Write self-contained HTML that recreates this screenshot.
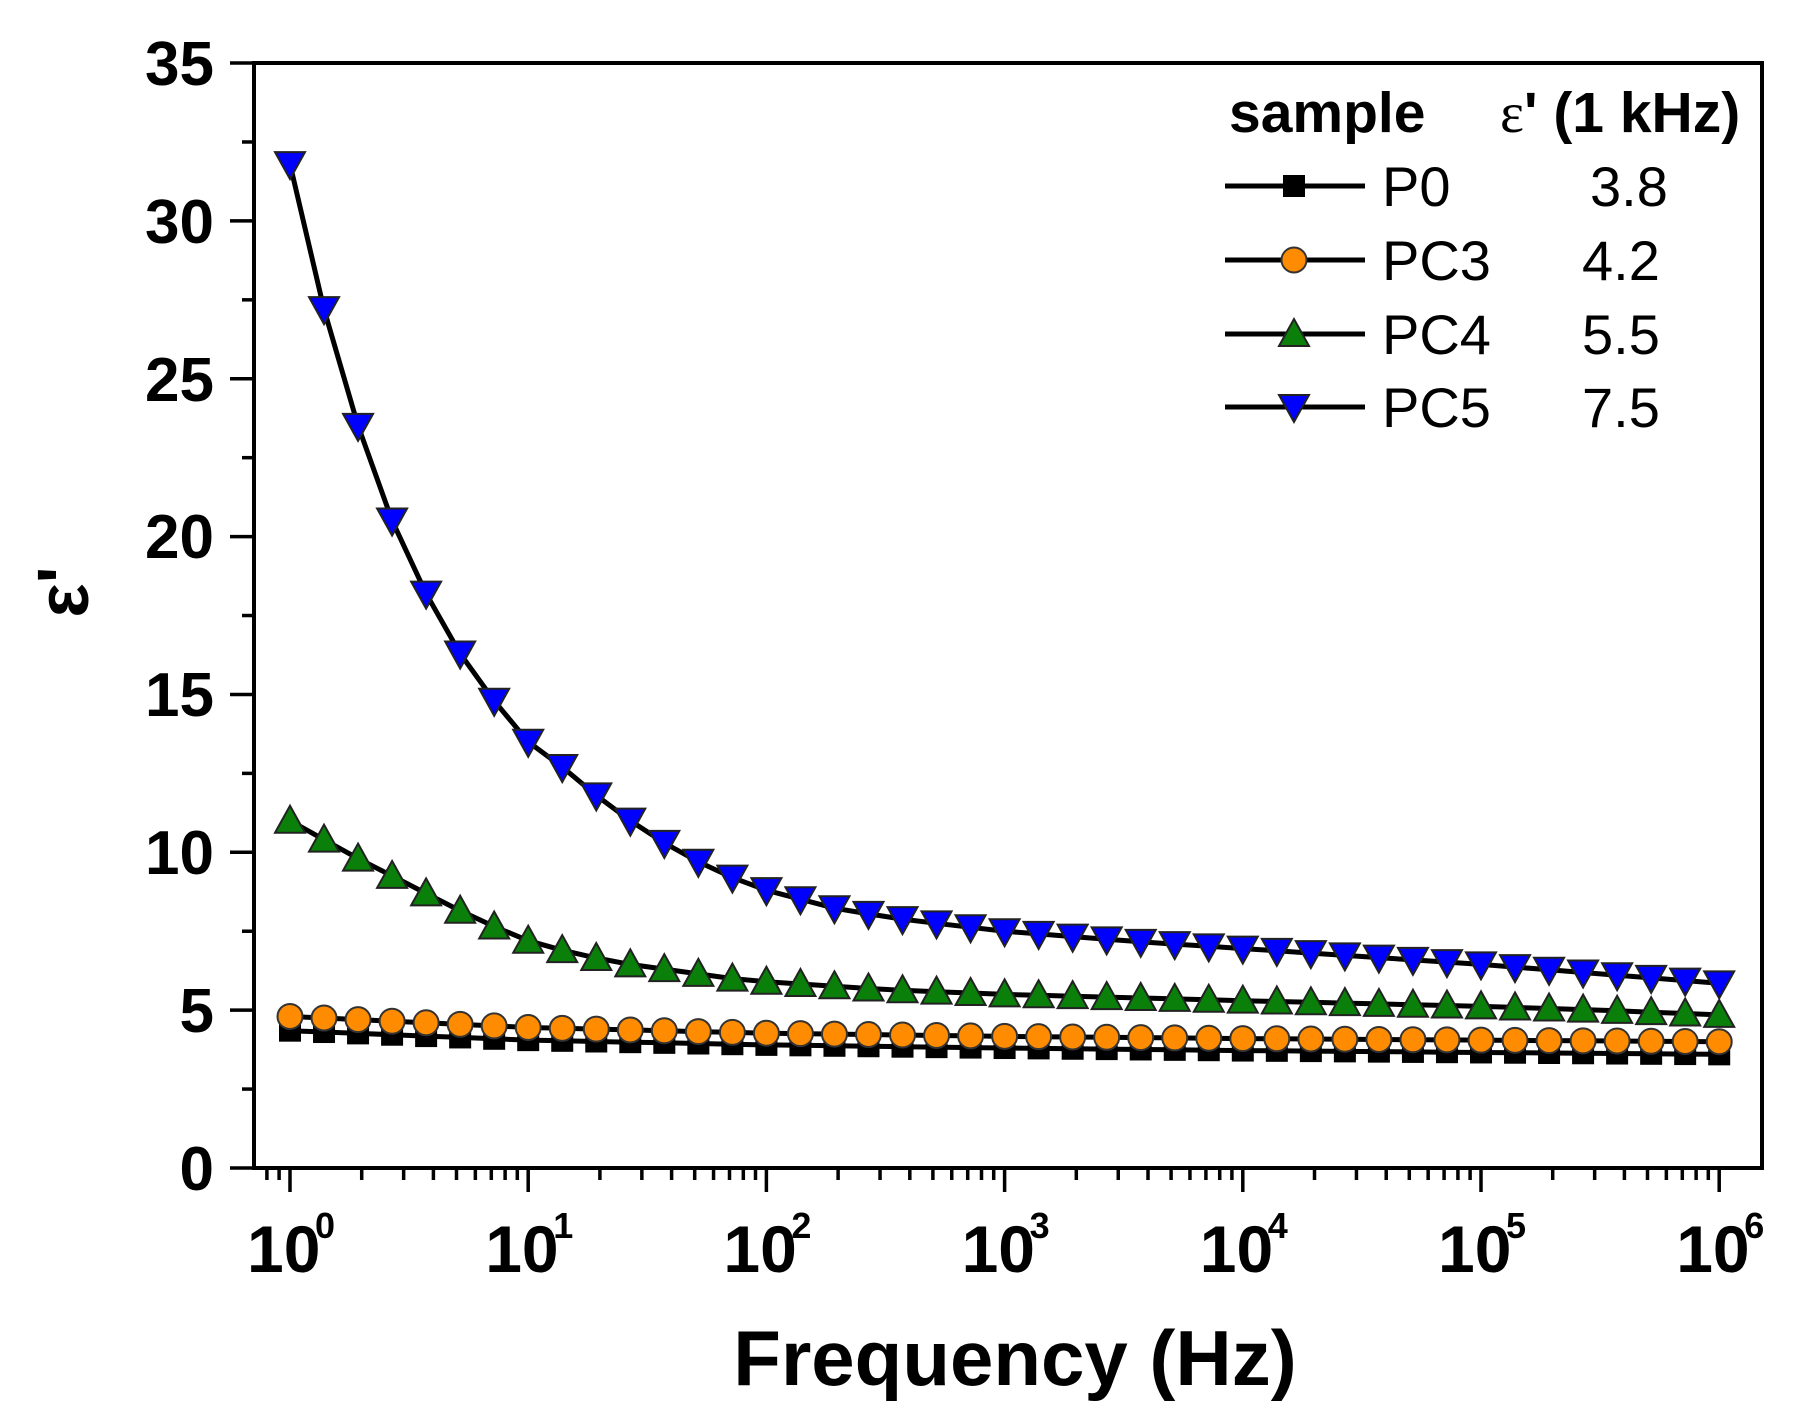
<!DOCTYPE html>
<html><head><meta charset="utf-8"><style>
html,body{margin:0;padding:0;background:#fff;}
svg{display:block;}
</style></head><body>
<svg id="s" width="1809" height="1428" viewBox="0 0 1809 1428" xmlns="http://www.w3.org/2000/svg" font-family="Liberation Sans, Arial, sans-serif">
<rect width="1809" height="1428" fill="#fff"/>
<g id="ticks" stroke="#000" stroke-width="3.5"></g>
<g id="series"></g>
<rect x="254" y="63" width="1508" height="1105" fill="none" stroke="#000" stroke-width="4"/>
<g font-weight="bold" font-size="62" text-anchor="end" fill="#000">
<text x="214" y="85">35</text>
<text x="214" y="243">30</text>
<text x="214" y="401">25</text>
<text x="214" y="558">20</text>
<text x="214" y="716">15</text>
<text x="214" y="874">10</text>
<text x="214" y="1032">5</text>
<text x="214" y="1190">0</text>
</g>
<g id="xl" font-weight="bold" fill="#000"></g>
<text x="1015" y="1385" font-size="78" font-weight="bold" text-anchor="middle">Frequency (Hz)</text>
<text transform="translate(88,592) rotate(-90)" font-size="72" font-weight="bold" text-anchor="middle">ε'</text>
<g id="leg"></g>
<text x="1229" y="132" font-size="57" font-weight="bold">sample</text>
<text x="1500" y="132" font-size="57" font-weight="bold"><tspan font-family="Liberation Serif, serif" font-weight="normal">ε</tspan>' (1 kHz)</text>
<g font-size="56" fill="#000">
<text x="1382" y="206">P0</text><text x="1590" y="206">3.8</text>
<text x="1382" y="280">PC3</text><text x="1582" y="280">4.2</text>
<text x="1382" y="354">PC4</text><text x="1582" y="354">5.5</text>
<text x="1382" y="427">PC5</text><text x="1582" y="427">7.5</text>
</g>
</svg>
<script>
var NS="http://www.w3.org/2000/svg";
function el(t,a,p){var e=document.createElementNS(NS,t);for(var k in a)e.setAttribute(k,a[k]);p.appendChild(e);return e;}
var X0=290,DEC=238.2,Y0=1168,PU=31.57;
function X(lf){return X0+lf*DEC;} function Y(v){return Y0-v*PU;}
var tk=document.getElementById('ticks');
for(var v=0;v<=35;v+=2.5){var maj=(v%5==0);el('line',{x1:maj?230:242,x2:254,y1:Y(v),y2:Y(v)},tk);}
[0.8,0.9].forEach(function(m){var x=X(Math.log10(m));el('line',{x1:x,x2:x,y1:1168,y2:1180},tk);});
for(var d=0;d<=6;d++){var x=X(d);el('line',{x1:x,x2:x,y1:1168,y2:1192},tk);
 if(d<6)for(var m=2;m<=9;m++){var xm=X(d+Math.log10(m));el('line',{x1:xm,x2:xm,y1:1168,y2:1180},tk);}}
var xl=document.getElementById('xl');
for(var d=0;d<=6;d++){var x=X(d);var t=el('text',{x:x-43,y:1272,'font-size':66},xl);t.textContent='10';
 var s=el('text',{x:x+25,y:1238,'font-size':36},xl);s.textContent=d;}
var C={
P0:[[0,4.35],[1,4.05],[2,3.9],[3,3.8],[4,3.72],[5,3.66],[6,3.6]],
PC3:[[0,4.8],[1,4.45],[2,4.27],[3,4.17],[4,4.1],[5,4.05],[6,4.0]],
PC4:[[0,11.0],[0.143,10.4],[0.286,9.8],[0.429,9.25],[0.571,8.7],[0.714,8.15],[0.857,7.65],[1,7.2],[1.143,6.9],[1.286,6.65],[1.429,6.45],[1.571,6.3],[1.714,6.15],[1.857,6.0],[2,5.9],[2.5,5.65],[3,5.5],[4,5.3],[5,5.12],[5.5,5.0],[6,4.85]],
PC5:[[0,31.8],[0.143,27.2],[0.286,23.5],[0.429,20.5],[0.571,18.2],[0.714,16.3],[0.857,14.8],[1,13.5],[1.143,12.7],[1.286,11.8],[1.429,11.0],[1.571,10.3],[1.714,9.7],[1.857,9.2],[2,8.8],[2.3,8.2],[2.6,7.85],[3,7.5],[3.5,7.2],[4,6.95],[4.5,6.7],[5,6.45],[5.5,6.15],[6,5.85]]};
function interp(c,l){for(var i=0;i<c.length-1;i++){if(l<=c[i+1][0]+1e-9){var t=(l-c[i][0])/(c[i+1][0]-c[i][0]);return c[i][1]+t*(c[i+1][1]-c[i][1]);}}return c[c.length-1][1];}
var sg=document.getElementById('series');
function marker(type,x,y,p){
 if(type=='P0')el('rect',{x:x-11,y:y-11,width:22,height:22,fill:'#000'},p);
 else if(type=='PC3')el('circle',{cx:x,cy:y,r:12.5,fill:'#ff8c00',stroke:'#333','stroke-width':2},p);
 else if(type=='PC4')el('polygon',{points:(x)+','+(y-15)+' '+(x-15)+','+(y+12)+' '+(x+15)+','+(y+12),fill:'#0a800a',stroke:'#222','stroke-width':2},p);
 else el('polygon',{points:(x)+','+(y+15)+' '+(x-15)+','+(y-12)+' '+(x+15)+','+(y-12),fill:'#0000ff',stroke:'#222','stroke-width':2},p);
}
['P0','PC3','PC4','PC5'].forEach(function(k){
 var pts=[],N=42;for(var i=0;i<=N;i++){var l=i/7;pts.push([X(l),Y(interp(C[k],l))]);}
 el('polyline',{points:pts.map(function(p){return p[0].toFixed(1)+','+p[1].toFixed(1);}).join(' '),fill:'none',stroke:'#000','stroke-width':5},sg);
 pts.forEach(function(p){marker(k,p[0],p[1],sg);});
});
var lg=document.getElementById('leg');
[['P0',186],['PC3',260],['PC4',334],['PC5',407]].forEach(function(r){
 el('line',{x1:1225,x2:1365,y1:r[1],y2:r[1],stroke:'#000','stroke-width':5},lg);
 marker(r[0],1294,r[1],lg);
});
</script>
</body></html>
